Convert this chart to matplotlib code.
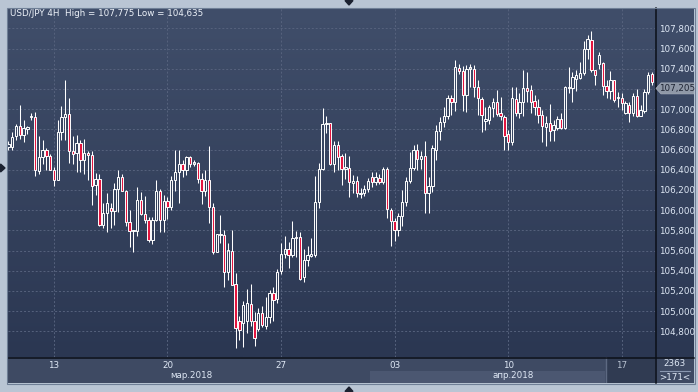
import matplotlib
matplotlib.use("Agg")
import matplotlib.pyplot as plt
from matplotlib.patches import Polygon, Rectangle
import numpy as np

# ---------------- data (USD/JPY 4H candles) ----------------
opens = [106.62,106.62,106.73,106.83,106.74,106.80,106.92,106.92,106.39,106.53,
         106.60,106.54,106.40,106.30,106.77,106.92,106.95,106.59,106.57,106.66,
         106.50,106.57,106.55,106.25,106.31,105.85,105.97,106.02,105.99,106.21,
         106.33,106.19,105.88,105.79,105.79,106.10,105.96,105.90,105.70,105.90,
         106.19,105.90,106.09,106.03,106.30,106.38,106.46,106.40,106.53,106.46,
         106.47,106.31,106.19,106.30,106.03,105.59,105.75,105.75,105.39,105.60,
         105.27,104.90,104.88,104.90,105.07,104.90,104.82,104.98,104.85,104.94,
         105.18,105.12,105.40,105.57,105.61,105.56,105.72,105.73,105.34,105.51,
         105.55,105.56,106.08,106.41,106.85,106.86,106.46,106.64,106.54,106.41,
         106.42,106.27,106.29,106.16,106.17,106.21,106.33,106.28,106.32,106.28,
         106.41,106.00,105.89,105.80,105.94,106.08,106.29,106.42,106.60,106.51,
         106.54,106.17,106.24,106.60,106.78,106.87,106.93,107.11,107.07,107.41,
         107.38,107.14,107.40,107.40,107.22,107.10,106.88,106.89,107.01,107.07,
         106.96,106.92,106.75,106.67,107.10,106.96,107.07,107.21,107.19,107.08,
         107.02,106.94,106.82,106.86,106.79,106.81,106.90,106.81,107.21,107.21,
         107.30,107.31,107.36,107.60,107.68,107.39,107.45,107.46,107.23,107.18,
         107.29,107.11,107.11,106.96,107.04,106.96,107.13,106.93,106.98,107.17,
         107.35]
highs = [106.68,106.77,106.85,107.04,106.89,106.83,106.96,106.97,106.73,106.69,
         106.61,106.56,106.43,106.89,107.03,107.29,107.11,106.73,106.74,106.69,
         106.70,106.59,106.59,106.37,106.36,106.07,106.17,106.07,106.27,106.40,
         106.36,106.20,106.00,105.80,106.23,106.18,106.14,105.93,105.93,106.30,
         106.21,106.15,106.13,106.34,106.60,106.60,106.50,106.54,106.54,106.50,
         106.48,106.37,106.40,106.63,106.07,105.76,105.95,105.80,105.67,105.80,
         105.38,104.95,105.10,105.22,105.27,104.99,105.03,105.05,105.14,105.21,
         105.24,105.42,105.67,105.74,105.68,105.89,105.79,105.78,105.61,105.64,
         105.72,106.34,106.47,107.01,106.93,106.86,106.68,106.68,106.56,106.57,
         106.54,106.35,106.34,106.22,106.25,106.32,106.38,106.38,106.36,106.43,
         106.43,106.02,105.92,105.97,106.20,106.33,106.58,106.64,106.65,106.59,
         106.68,106.33,106.64,106.84,106.92,107.02,107.14,107.14,107.49,107.45,
         107.43,107.44,107.45,107.44,107.29,107.12,107.02,107.04,107.11,107.19,
         107.12,106.94,106.79,107.22,107.22,107.16,107.39,107.37,107.24,107.14,
         107.10,106.99,106.93,107.05,106.89,106.93,106.96,107.23,107.42,107.37,
         107.39,107.47,107.67,107.73,107.775,107.39,107.57,107.47,107.29,107.38,
         107.29,107.17,107.16,107.08,107.07,107.16,107.20,107.04,107.20,107.37,
         107.37]
lows = [106.60,106.60,106.69,106.70,106.67,106.75,106.89,106.34,106.36,106.46,
        106.40,106.40,106.24,106.30,106.69,106.69,106.47,106.46,106.38,106.38,
        106.36,106.30,106.05,106.15,105.84,105.82,105.78,105.82,105.85,105.98,
        106.19,105.84,105.63,105.59,105.74,105.95,105.87,105.68,105.66,105.89,
        105.78,105.78,105.91,106.00,106.19,106.07,106.33,106.35,106.43,106.44,
        106.27,106.06,106.14,105.87,105.57,105.59,105.67,105.24,105.31,105.26,
        104.635,104.71,104.64,104.78,104.85,104.65,104.80,104.84,104.82,104.88,
        104.90,105.08,105.37,105.53,105.43,105.54,105.54,105.31,105.29,105.45,
        105.54,105.54,106.02,106.40,106.76,106.45,106.38,106.40,106.25,106.31,
        106.13,106.17,106.13,106.12,106.14,106.18,106.23,106.25,106.26,106.26,
        105.92,105.64,105.69,105.74,105.84,106.04,106.27,106.40,106.40,106.41,
        105.97,105.97,106.18,106.50,106.69,106.82,106.90,106.94,106.98,107.35,
        106.98,106.97,107.22,107.12,106.94,106.77,106.79,106.85,106.92,106.93,
        106.89,106.60,106.60,106.64,106.93,106.91,106.93,107.07,106.96,106.94,
        106.86,106.67,106.63,106.68,106.68,106.79,106.80,106.80,107.16,107.07,
        107.18,107.30,107.34,107.50,107.37,107.24,107.40,107.14,107.11,107.10,
        107.07,107.02,106.99,106.95,106.87,106.93,106.92,106.93,106.96,107.15,
        107.24]
closes = [106.65,106.72,106.83,106.74,106.81,106.82,106.93,106.40,106.53,106.60,
          106.54,106.40,106.30,106.77,106.92,106.95,106.59,106.56,106.66,106.50,
          106.57,106.55,106.24,106.31,105.85,105.97,106.07,105.99,106.21,106.33,
          106.19,105.88,105.79,105.80,106.10,105.96,105.90,105.70,105.90,106.19,
          105.90,106.09,106.03,106.30,106.38,106.46,106.40,106.53,106.46,106.47,
          106.31,106.19,106.30,106.03,105.59,105.76,105.76,105.39,105.60,105.26,
          104.83,104.81,105.06,105.08,104.90,104.73,104.98,104.86,104.94,105.18,
          105.11,105.39,105.57,105.61,105.56,105.72,105.73,105.32,105.51,105.56,
          105.57,106.08,106.41,106.85,106.86,106.46,106.64,106.53,106.41,106.42,
          106.28,106.29,106.17,106.17,106.21,106.29,106.28,106.33,106.28,106.41,
          106.01,105.89,105.80,105.94,106.08,106.29,106.42,106.60,106.51,106.54,
          106.17,106.24,106.61,106.78,106.87,106.93,107.11,107.07,107.42,107.38,
          107.14,107.40,107.41,107.22,107.11,106.94,106.90,107.02,107.07,106.95,
          106.93,106.73,106.67,107.11,106.96,107.07,107.21,107.18,107.07,107.02,
          106.94,106.83,106.86,106.78,106.84,106.90,106.81,107.22,107.22,107.32,
          107.34,107.36,107.60,107.69,107.39,107.34,107.54,107.23,107.18,107.29,
          107.09,107.11,107.06,107.06,106.96,107.13,106.93,106.99,107.17,107.34,
          107.27]

price_ticks = [104.8,105.0,105.2,105.4,105.6,105.8,106.0,106.2,106.4,106.6,
               106.8,107.0,107.2,107.4,107.6,107.8]
day_tick_bars = [12, 42, 72, 102, 132, 162]
day_labels = ["13", "20", "27", "03", "10", "17"]
month_labels = ["мар.2018", "апр.2018"]
month_label_bars = [48.3, 133.5]
last_price = 107.205
title = "USD/JPY 4H  High = 107,775 Low = 104,635"
bars_count = "2363"
visible_count = ">171<"

# ---------------- layout helpers ----------------
W, H = 698, 392
def fx(px): return px / W
def fy(py): return 1 - py / H

BG_TOP = np.array([0x40, 0x4e, 0x6a]) / 255
BG_BOT = np.array([0x2b, 0x37, 0x52]) / 255
RED = "#e3153f"
WHITE = "#ffffff"
TXT = "#dfe8f5"
FONT = "DejaVu Sans"
FS = 6.3

fig = plt.figure(figsize=(W / 100, H / 100), dpi=100, facecolor="#b9c5d4")

def gradient(ax):
    g = np.linspace(0, 1, 256)[:, None]
    img = BG_TOP[None, None, :] * (1 - g[..., None]) + BG_BOT[None, None, :] * g[..., None]
    ax.imshow(img, extent=[0, 1, 0, 1], transform=ax.transAxes, aspect="auto", zorder=0,
              interpolation="bilinear")

# main chart axes
L, R, T, B = 8, 655, 8, 357
ax = fig.add_axes([fx(L), fy(B), fx(R - L), (B - T) / H], zorder=2)
n = len(opens)
ymin = 107.8 - (B - 28.3) * 0.2 / 20.2
ymax = 107.8 + (28.3 - T) * 0.2 / 20.2
ax.set_xlim(-0.13, 170.8)
ax.set_ylim(ymin, ymax)
gradient(ax)

# right price panel
axr = fig.add_axes([fx(R), fy(B), fx(694 - R), (B - T) / H], zorder=1)
axr.set_xlim(0, 1); axr.set_ylim(0, 1)
gradient(axr)
axr.set_xticks([]); axr.set_yticks([])
for s in axr.spines.values():
    s.set_visible(False)

# bottom date panel
axb = fig.add_axes([fx(L), fy(383), fx(694 - L), (383 - B) / H], zorder=1, facecolor="#3e4a63")
axb.set_xlim(0, 694 - L); axb.set_ylim(0, 1)
axb.set_xticks([]); axb.set_yticks([])
for s in axb.spines.values():
    s.set_visible(False)
axb.add_patch(Rectangle((370 - L, 0), 605 - 370, (383 - 370.7) / 26, color="#4b5771", lw=0))
axb.add_patch(Rectangle((606 - L, 0), R - 606, 1, color="#303b52", lw=0))
axb.plot([605.5 - L, 605.5 - L], [0, 1], color="#5d6982", lw=1)
axb.plot([R - L + 5, 694 - L - 4], [(383 - 371) / 26] * 2, color="#8a98b0", lw=0.8)

# grid and ticks
ax.set_yticks(price_ticks)
ax.set_yticklabels([f"{v:,.3f}".replace(".", ",") for v in price_ticks])
ax.set_xticks(day_tick_bars)
ax.set_xticklabels(day_labels)
ax.yaxis.tick_right()
ax.tick_params(axis="y", length=0, pad=3.0, labelsize=FS, labelcolor=TXT)
ax.tick_params(axis="x", length=0, pad=2.8, labelsize=FS, labelcolor=TXT)
for lab in ax.get_yticklabels() + ax.get_xticklabels():
    lab.set_fontfamily(FONT)
ax.get_xticklabels()[-1].set_color("#b7c1d0")
ax.grid(True, color="#56627d", linestyle=(0, (2, 2)), lw=0.7, zorder=1)
for s in ax.spines.values():
    s.set_visible(False)

# candles
x = np.arange(n)
o = np.array(opens); c = np.array(closes); h = np.array(highs); lo = np.array(lows)
top = np.maximum(o, c); bot = np.minimum(o, c)
minh = 0.012
hgt = np.maximum(top - bot, minh)
ax.vlines(x, top, h, color=WHITE, lw=0.75, zorder=3)
ax.vlines(x, lo, bot, color=WHITE, lw=0.75, zorder=3)
bw = 0.62
up = c >= o
ax.bar(x[up], hgt[up], bottom=bot[up], width=bw, facecolor="none",
       edgecolor=WHITE, linewidth=0.7, zorder=4)
ax.bar(x[~up], hgt[~up], bottom=bot[~up], width=bw, facecolor=RED,
       edgecolor=WHITE, linewidth=0.7, zorder=4)

# month labels
for bi, lab in zip(month_label_bars, month_labels):
    px = 8.5 + bi * 3.78
    axb.text(px - L, (383 - 376) / 26, lab, ha="center", va="center",
             fontsize=FS, color=TXT, fontfamily=FONT)

# corner counters
fig.text(fx(675), fy(364), bars_count, ha="center", va="center", fontsize=FS,
         color=TXT, fontfamily=FONT, zorder=6)
fig.text(fx(675), fy(377.5), visible_count, ha="center", va="center", fontsize=FS,
         color=TXT, fontfamily=FONT, zorder=6)

# title
fig.text(fx(10), fy(14), title, ha="left", va="center", fontsize=FS,
         color="#eef3fa", fontfamily=FONT, zorder=6)

# black axis lines
fig.add_artist(plt.Line2D([fx(R + 0.5)] * 2, [fy(T), fy(383)], color="#0b0f18", lw=1.1, zorder=7))
fig.add_artist(plt.Line2D([fx(L), fx(694)], [fy(B + 0.5)] * 2, color="#0b0f18", lw=1.1, zorder=7))
fig.add_artist(Rectangle((fx(7.5), fy(383.5)), fx(694.5 - 7.5), (383.5 - 7.5) / H,
                         transform=fig.transFigure, fill=False, edgecolor="#6f7f96", lw=0.8, zorder=7))

# last price marker
yp = 28.3 + (107.8 - last_price) * 20.2 / 0.2
poly = [(R + 1, yp), (R + 6, yp - 5.5), (694, yp - 5.5), (694, yp + 5.5), (R + 6, yp + 5.5)]
fig.add_artist(Polygon([(fx(a), fy(b)) for a, b in poly], closed=True, transform=fig.transFigure,
                       facecolor="#8f98a7", edgecolor="#a7aebb", lw=0.5, zorder=8))
fig.text(fx(677), fy(yp), f"{last_price:,.3f}".replace(".", ","), ha="center", va="center",
         fontsize=FS, color="#1e2433", fontfamily=FONT, zorder=9)

# small navigation triangles
tri_col = "#1b2130"
for pts in ([(345, 0.5), (353, 0.5), (349, 5)],
            [(345, 391.5), (353, 391.5), (349, 387)],
            [(0.5, 164), (0.5, 172), (5, 168)]):
    fig.add_artist(Polygon([(fx(a), fy(b)) for a, b in pts], closed=True,
                           transform=fig.transFigure, color=tri_col, zorder=8))

fig.savefig("out.png", dpi=100, facecolor=fig.get_facecolor())
